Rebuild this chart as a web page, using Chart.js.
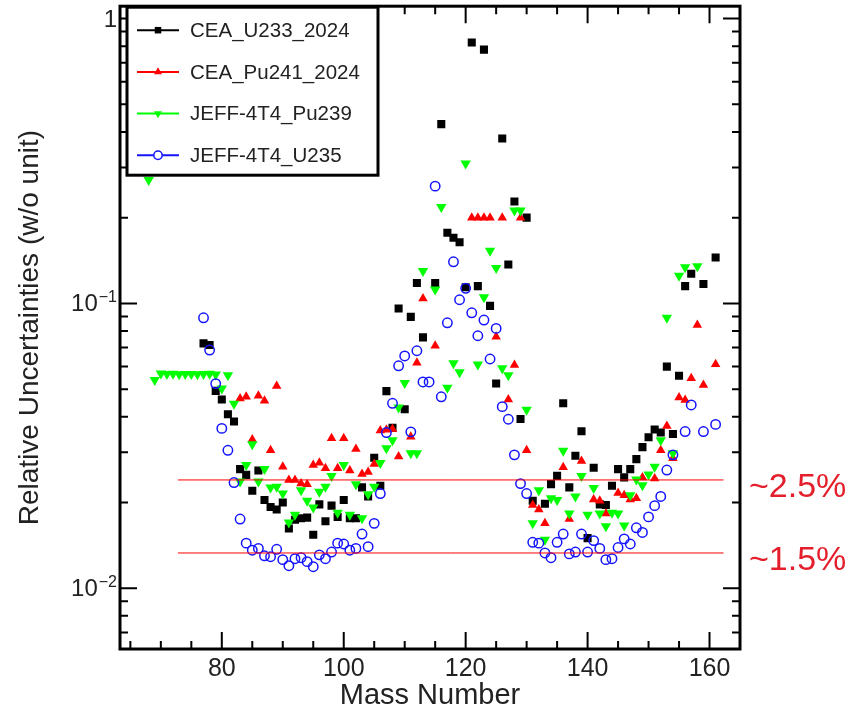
<!DOCTYPE html>
<html>
<head>
<meta charset="utf-8">
<script src="https://cdn.jsdelivr.net/npm/chart.js@4.4.0/dist/chart.umd.min.js"></script>
<style>
  html, body { margin: 0; padding: 0; background: #fff; }
  #chart { display: block; }
</style>
</head>
<body>
<canvas id="chart" width="858" height="716"></canvas>
<script>
// values
const seriesNames = ['CEA_U233_2024', 'CEA_Pu241_2024', 'JEFF-4T4_Pu239', 'JEFF-4T4_U235'];

const u233Mass = [77,78,79,80,81,82,83,84,85,86,87,88,89,90,91,92,93,94,95,96,97,98,99,100,101,102,103,104,105,106,107,108,109,110,111,112,113,
  115,116,117,118,119,120,121,122,123,124,125,126,127,128,129,130,131,
  133,134,135,136,137,138,139,140,141,142,143,144,145,146,147,148,149,150,151,152,153,154,155,156,157,159,161];
const u233Unc = [0.0724,0.0714,0.0493,0.046,0.0408,0.0385,0.0262,0.025,0.022,0.0259,0.0204,0.0193,0.0189,0.02,0.0162,0.0174,0.0176,0.0177,0.0154,0.0197,0.0172,0.0195,0.0178,0.0204,0.0176,0.0176,0.0226,0.021,0.0287,0.0229,0.0492,0.0366,0.096,0.0425,0.0897,0.118,0.076,
  0.118,0.426,0.177,0.170,0.164,0.114,0.824,0.115,0.778,0.098,0.0523,0.379,0.137,0.228,0.0393,0.2,0.0203,
  0.0198,0.0232,0.0248,0.0446,0.0226,0.0292,0.0356,0.015,0.0265,0.0197,0.0196,0.0229,0.0262,0.0245,0.0262,0.0284,0.0313,0.0339,0.0361,0.0352,0.06,0.0348,0.0557,0.115,0.127,0.117,0.145];

const pu241Mass = [83,84,85,86,87,88,89,90,91,92,93,94,95,96,97,98,99,100,101,102,103,104,105,106,107,108,109,111,112,113,115,
  121,122,123,124,125,126,127,128,129,130,131,132,133,136,137,139,141,142,143,145,146,147,148,149,151,152,153,154,155,156,157,158,159,161];
const pu241Unc = [0.0464,0.047,0.0333,0.0474,0.0455,0.0305,0.0513,0.0267,0.024,0.024,0.0233,0.0232,0.0271,0.0276,0.0264,0.0336,0.0264,0.0336,0.0259,0.0308,0.0252,0.0256,0.0273,0.0358,0.036,0.0362,0.029,0.034,0.0619,0.104,0.071,
  0.2,0.2,0.2,0.2,0.0763,0.2,0.046,0.0608,0.2,0.0305,0.0196,0.0189,0.0169,0.0266,0.0175,0.028,0.0205,0.0203,0.0183,0.0216,0.0212,0.0205,0.0207,0.0245,0.0243,0.0305,0.0371,0.0286,0.0467,0.0458,0.0546,0.0839,0.0517,0.0612];

const pu239Mass = [68,69,70,71,72,73,74,75,76,77,78,79,80,81,82,83,84,85,86,87,88,89,90,91,92,93,94,95,96,97,98,99,100,101,102,103,104,105,106,107,108,109,110,111,112,113,
  115,116,117,118,119,120,122,123,124,125,126,127,128,129,130,131,132,133,134,135,136,137,138,139,140,141,142,143,144,145,146,147,148,149,150,151,152,153,154,155,156,158];
const pu239Unc = [0.271,0.0538,0.0568,0.0565,0.0566,0.0564,0.0565,0.0565,0.0564,0.0565,0.0566,0.0563,0.0503,0.056,0.0444,0.0237,0.0271,0.032,0.0237,0.0262,0.0226,0.0227,0.0215,0.017,0.0181,0.0221,0.0203,0.0192,0.0218,0.0227,0.0248,0.0184,0.0271,0.0181,0.0232,0.0176,0.0214,0.0227,0.0275,0.031,0.0331,0.0431,0.0526,0.0298,0.0298,0.13,
  0.112,0.218,0.0506,0.0616,0.0573,0.31,0.061,0.105,0.153,0.133,0.0592,0.056,0.212,0.212,0.0423,0.0169,0.0221,0.0148,0.0207,0.0204,0.0304,0.0183,0.021,0.0248,0.0181,0.0225,0.0183,0.0165,0.0184,0.0183,0.0166,0.0212,0.0241,0.023,0.0251,0.0267,0.0331,0.089,0.0298,0.125,0.134,0.135];

const u235Mass = [77,78,79,80,81,82,83,84,85,86,87,88,89,90,91,92,93,94,95,96,97,98,99,100,101,102,103,104,105,106,107,108,109,110,111,112,113,114,115,116,117,118,119,120,
  121,122,123,124,125,126,127,128,129,130,131,132,133,134,135,136,137,138,139,140,141,142,143,144,145,146,147,148,149,150,151,152,153,154,156,157,159,161];
const u235Unc = [0.089,0.0686,0.0523,0.0364,0.0305,0.0235,0.0175,0.0144,0.0136,0.0138,0.013,0.0129,0.0137,0.0126,0.012,0.0127,0.0128,0.0124,0.0119,0.0131,0.0127,0.0134,0.0144,0.0143,0.0136,0.0138,0.0155,0.014,0.0169,0.0215,0.0352,0.0446,0.0604,0.0654,0.0354,0.0682,0.053,0.053,0.258,0.047,0.0855,0.14,0.103,0.113,
  0.0927,0.077,0.0874,0.0638,0.0817,0.0434,0.0392,0.0294,0.0233,0.0215,0.0145,0.0144,0.0133,0.0128,0.0145,0.0155,0.0132,0.0134,0.0155,0.0134,0.0147,0.0138,0.0126,0.0127,0.0139,0.0149,0.0143,0.0163,0.0157,0.0178,0.0195,0.021,0.026,0.0294,0.0355,0.044,0.0355,0.0376];

// the two red reference levels
const refLevels = [0.024, 0.0133];
const refLabels = ['~2.5%', '~1.5%'];
const refMassRange = [72.8, 162.3];

const xRange = [63.3, 165];
const yRange = [0.00612, 1.105];
const yTickValues = [0.01, 0.1, 1];
const yTickExps = ['\u22122', '\u22121', ''];

const FONT = "'Liberation Sans', Arial, Helvetica, sans-serif";
Chart.defaults.font.family = FONT;

function pts(xs, ys) {
  return xs.map((m, i) => ({ x: m, y: ys[i] }));
}

const datasets = [
  { label: seriesNames[0], data: pts(u233Mass, u233Unc), pointStyle: 'rect', pointRadius: 5.7,
    backgroundColor: '#000', borderColor: '#000', pointBorderWidth: 0, order: 4 },
  { label: seriesNames[1], data: pts(pu241Mass, pu241Unc), pointStyle: 'triangle', pointRadius: 5.5,
    backgroundColor: '#ff0000', borderColor: '#ff0000', pointBorderWidth: 0, order: 3 },
  { label: seriesNames[2], data: pts(pu239Mass, pu239Unc), pointStyle: 'triangle', pointRotation: 180, pointRadius: 6,
    backgroundColor: '#00ff00', borderColor: '#00ff00', pointBorderWidth: 0, order: 2 },
  { label: seriesNames[3], data: pts(u235Mass, u235Unc), pointStyle: 'circle', pointRadius: 4.7,
    backgroundColor: 'rgba(0,0,0,0)', borderColor: '#1414ff', pointBorderWidth: 1.5, order: 1 }
];

refLevels.forEach(lv => {
  datasets.push({
    label: 'ref', type: 'line', showLine: true, order: 0,
    data: [{ x: refMassRange[0], y: lv }, { x: refMassRange[1], y: lv }],
    borderColor: '#ff0000', borderWidth: 1, pointRadius: 0, fill: false
  });
});

const framePlugin = {
  id: 'frame',
  afterDraw(chart) {
    const { ctx, chartArea: a, scales: { x, y } } = chart;
    ctx.save();

    // inward ticks on all four sides
    ctx.strokeStyle = '#000';
    ctx.lineWidth = 2;
    ctx.beginPath();
    for (let v = 65; v <= 165; v += 5) {
      const px = x.getPixelForValue(v);
      const len = v % 20 === 0 ? 17 : 8;
      ctx.moveTo(px, a.bottom); ctx.lineTo(px, a.bottom - len);
      ctx.moveTo(px, a.top); ctx.lineTo(px, a.top + len);
    }
    for (let e = -3; e <= 0; e++) {
      for (let m = 1; m <= 9; m++) {
        const v = m * Math.pow(10, e);
        if (v < y.min || v > y.max) continue;
        const py = y.getPixelForValue(v);
        const len = m === 1 ? 17 : 8;
        ctx.moveTo(a.left, py); ctx.lineTo(a.left + len, py);
        ctx.moveTo(a.right, py); ctx.lineTo(a.right - len, py);
      }
    }
    ctx.stroke();

    ctx.lineWidth = 3;
    ctx.strokeRect(a.left, a.top, a.right - a.left, a.bottom - a.top);

    // y tick labels with exponents
    ctx.fillStyle = '#222';
    ctx.textAlign = 'left';
    ctx.textBaseline = 'alphabetic';
    yTickValues.forEach((v, i) => {
      const py = y.getPixelForValue(v);
      const exp = yTickExps[i];
      const base = exp ? '10' : '1';
      ctx.font = '24px ' + FONT;
      const bw = ctx.measureText(base).width;
      ctx.font = '16px ' + FONT;
      const ew = exp ? ctx.measureText(exp).width + 1 : 0;
      const right = a.left - 3;
      const baseY = py + 8;
      ctx.font = '24px ' + FONT;
      ctx.fillText(base, right - ew - bw, baseY);
      if (exp) {
        ctx.font = '16px ' + FONT;
        ctx.fillText(exp, right - ew + 1, baseY - 9);
      }
    });

    // reference labels right of the frame
    ctx.fillStyle = '#e41e2b';
    ctx.font = '34px ' + FONT;
    refLevels.forEach((lv, i) => {
      ctx.fillText(refLabels[i], a.right + 9, y.getPixelForValue(lv) + 17);
    });

    // legend box
    const lx = a.left + 7, ly = a.top + 1, lw = 251, lh = 168;
    ctx.fillStyle = '#fff';
    ctx.fillRect(lx, ly, lw, lh);
    ctx.strokeStyle = '#000';
    ctx.lineWidth = 3;
    ctx.strokeRect(lx, ly, lw, lh);
    chart.data.datasets.slice(0, 4).forEach((ds, i) => {
      const cy = ly + 23 + i * 41.7;
      ctx.strokeStyle = ds.borderColor;
      ctx.lineWidth = 2;
      ctx.beginPath();
      ctx.moveTo(lx + 10, cy); ctx.lineTo(lx + 52, cy);
      ctx.stroke();
      const open = ds.pointStyle === 'circle';
      ctx.fillStyle = open ? '#fff' : ds.backgroundColor;
      ctx.lineWidth = 1.5;
      Chart.helpers.drawPoint(ctx, {
        pointStyle: ds.pointStyle, rotation: ds.pointRotation || 0,
        radius: open ? 4.2 : 4.6, borderWidth: open ? 1.5 : 0
      }, lx + 31, cy);
      ctx.fillStyle = '#222';
      ctx.font = '20.5px ' + FONT;
      ctx.textBaseline = 'middle';
      ctx.fillText(ds.label, lx + 63, cy + 1);
      ctx.textBaseline = 'alphabetic';
    });

    ctx.restore();
  }
};

new Chart(document.getElementById('chart'), {
  type: 'scatter',
  data: { datasets: datasets },
  options: {
    responsive: false,
    animation: false,
    layout: { padding: { left: 0, right: 118, top: 6, bottom: 0 } },
    plugins: { legend: { display: false }, tooltip: { enabled: false } },
    scales: {
      x: {
        type: 'linear', min: xRange[0], max: xRange[1],
        afterFit(s) { s.height = 67; },
        grid: { display: false, drawTicks: false },
        border: { display: false },
        ticks: { stepSize: 20, includeBounds: false, autoSkip: false, maxRotation: 0,
                 color: '#222', font: { size: 25 }, padding: 5 },
        title: { display: true, text: 'Mass Number', color: '#222', font: { size: 29 },
                 padding: { top: 0, bottom: 3 } }
      },
      y: {
        type: 'logarithmic', min: yRange[0], max: yRange[1],
        afterFit(s) { s.width = 120; },
        grid: { display: false, drawTicks: false },
        border: { display: false },
        ticks: { display: false },
        title: { display: true, text: 'Relative Uncertainties (w/o unit)', color: '#222',
                 font: { size: 28 }, padding: { top: 13, bottom: 0 } }
      }
    }
  },
  plugins: [framePlugin]
});
</script>
</body>
</html>
